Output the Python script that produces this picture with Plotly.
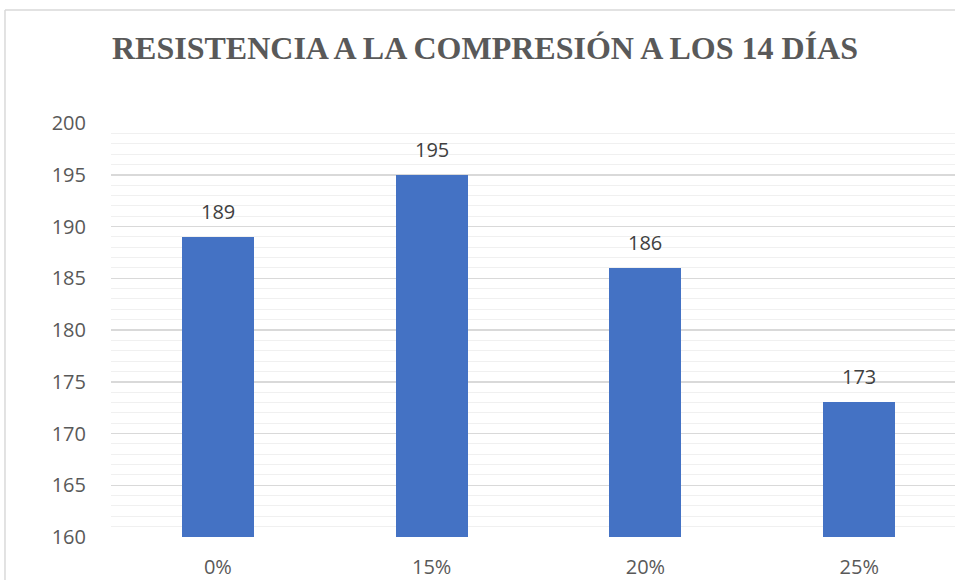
import plotly.graph_objects as go

# Compressive strength at 14 days by replacement percentage
categories = ["0%", "15%", "20%", "25%"]
values = [189, 195, 186, 173]
y_ticks = [160, 165, 170, 175, 180, 185, 190, 195, 200]

title_text = "RESISTENCIA A LA COMPRESIÓN A LOS 14 DÍAS"

bar_color = "#4472C4"
text_color = "#595959"
label_font = "Open Sans, Noto Sans, sans-serif"

fig = go.Figure()
fig.add_trace(go.Bar(
    x=list(range(len(categories))),
    y=values,
    width=0.337,
    marker=dict(color=bar_color, line=dict(width=0)),
    hoverinfo="skip",
))

# value labels above each bar
for i, v in enumerate(values):
    fig.add_annotation(
        x=i, y=v, text=str(v), showarrow=False,
        yanchor="bottom", yshift=10,
        font=dict(family=label_font, size=20, color="#404040"),
    )

# chart frame: left and top edges
frame = dict(color="#d9d9d9", width=1.5)
fig.add_shape(type="line", xref="paper", yref="paper",
              x0=-0.1256, x1=-0.1256, y0=-0.2, y1=1.273, line=frame, layer="below")
fig.add_shape(type="line", xref="paper", yref="paper",
              x0=-0.1256, x1=1.2, y0=1.273, y1=1.273, line=frame, layer="below")

fig.update_layout(
    width=955, height=580,
    margin=dict(l=111, r=0, t=123, b=43, autoexpand=False),
    paper_bgcolor="white", plot_bgcolor="white",
    showlegend=False,
    title=dict(
        text=title_text,
        x=485 / 955, xanchor="center",
        y=1 - 48 / 580, yanchor="middle",
        xref="container", yref="container",
        font=dict(family="Liberation Serif, Times New Roman, serif",
                  size=32, color=text_color, weight="bold"),
    ),
    bargap=0,
)

fig.update_xaxes(
    tickmode="array", tickvals=list(range(len(categories))), ticktext=categories,
    range=[-0.5, 3.448],
    showgrid=False, zeroline=False, showline=False,
    ticks="outside", ticklen=12, tickcolor="rgba(0,0,0,0)",
    tickfont=dict(family=label_font, size=20, color=text_color),
    automargin=False,
    fixedrange=True,
)

fig.update_yaxes(
    range=[160, 200],
    tickmode="array", tickvals=y_ticks,
    showgrid=True, gridcolor="#d9d9d9", gridwidth=1.5,
    minor=dict(dtick=1, showgrid=True, gridcolor="#f0f0f0", gridwidth=1),
    zeroline=False, showline=False,
    ticks="outside", ticklen=20, tickcolor="rgba(0,0,0,0)",
    tickfont=dict(family=label_font, size=20, color=text_color),
    automargin=False,
    fixedrange=True,
)

# keep the page free of scrollbars
fig.write_html(
    "out.html",
    config={"displayModeBar": False, "staticPlot": True},
    post_script="document.body.style.margin='0';document.body.style.overflow='hidden';",
)
